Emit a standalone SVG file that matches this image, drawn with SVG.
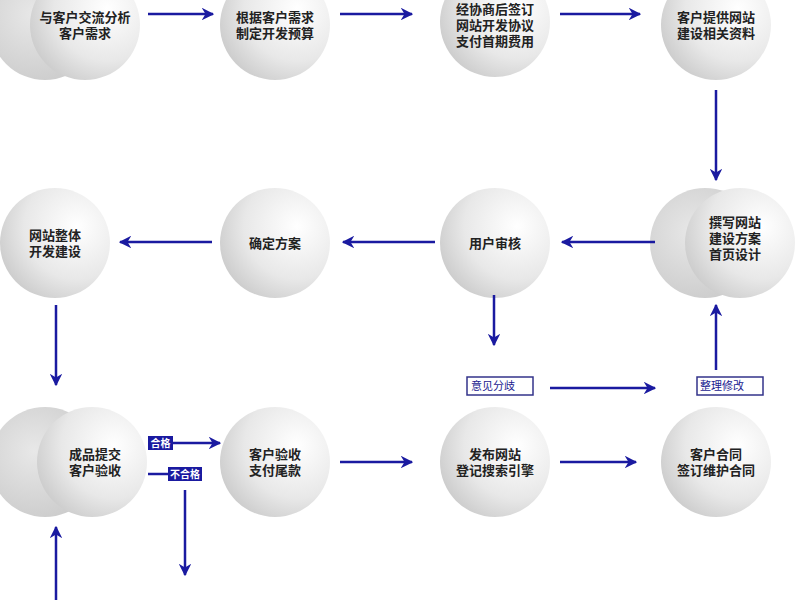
<svg xmlns="http://www.w3.org/2000/svg" width="800" height="600" viewBox="0 0 800 600">
<defs>
<radialGradient id="g" cx="0.7" cy="0.35" r="0.8"><stop offset="0" stop-color="#ffffff"/><stop offset="0.6" stop-color="#e8e8e8"/><stop offset="1" stop-color="#c8c8c8"/></radialGradient>
<radialGradient id="gb" cx="0.4" cy="0.4" r="0.7"><stop offset="0" stop-color="#e8e8e8"/><stop offset="1" stop-color="#cacaca"/></radialGradient>
<marker id="a" viewBox="0 0 10 10" refX="9" refY="5" markerWidth="5" markerHeight="5" orient="auto"><path d="M0,0 L10,5 L0,10 L3,5 z" fill="#1a1aa0"/></marker>
</defs>
<style>
.c{fill:url(#g)}.b{fill:url(#gb)}
text{font-family:"Noto Sans CJK SC",sans-serif;font-size:13px;font-weight:bold;fill:#222;text-anchor:middle}
.l{stroke:#1a1aa0;stroke-width:2.5;fill:none;marker-end:url(#a)}
.p{stroke:#1a1aa0;stroke-width:2.5;fill:none}
.bx{fill:#fff;stroke:#33338a;stroke-width:1.5}
.bt{font-size:11px;font-weight:normal;fill:#1a1a90;text-anchor:start}
.tag{fill:#1a1aa0}
.tt{font-size:10px;fill:#fff;font-weight:bold}
</style>
<rect width="800" height="600" fill="#fff"/>
<g id="n1"><circle class="b" cx="45" cy="25" r="55"/><circle class="c" cx="85" cy="25" r="55"/><text x="85" y="22">与客户交流分析</text><text x="85" y="38">客户需求</text></g>
<g id="n2"><circle class="c" cx="275" cy="25" r="55"/><text x="275" y="22">根据客户需求</text><text x="275" y="38">制定开发预算</text></g>
<g id="n3"><circle class="c" cx="495" cy="22" r="55"/><text x="495" y="14">经协商后签订</text><text x="495" y="30">网站开发协议</text><text x="495" y="46">支付首期费用</text></g>
<g id="n4"><circle class="c" cx="716" cy="25" r="55"/><text x="716" y="22">客户提供网站</text><text x="716" y="38">建设相关资料</text></g>
<g id="n5"><circle class="b" cx="705" cy="243" r="55"/><circle class="c" cx="740" cy="243" r="55"/><text x="735" y="227">撰写网站</text><text x="735" y="243">建设方案</text><text x="735" y="259">首页设计</text></g>
<g id="n6"><circle class="c" cx="495" cy="243" r="55"/><text x="495" y="248">用户审核</text></g>
<g id="n7"><circle class="c" cx="275" cy="243" r="55"/><text x="275" y="248">确定方案</text></g>
<g id="n8"><circle class="c" cx="55" cy="243" r="55"/><text x="55" y="240">网站整体</text><text x="55" y="256">开发建设</text></g>
<g id="n9"><circle class="b" cx="45" cy="462" r="55"/><circle class="c" cx="92" cy="462" r="55"/><text x="95" y="459">成品提交</text><text x="95" y="475">客户验收</text></g>
<g id="n10"><circle class="c" cx="275" cy="462" r="55"/><text x="275" y="459">客户验收</text><text x="275" y="475">支付尾款</text></g>
<g id="n11"><circle class="c" cx="495" cy="462" r="55"/><text x="495" y="459">发布网站</text><text x="495" y="475">登记搜索引擎</text></g>
<g id="n12"><circle class="c" cx="716" cy="462" r="55"/><text x="716" y="459">客户合同</text><text x="716" y="475">签订维护合同</text></g>
<g id="b1"><rect class="bx" x="467" y="377" width="66" height="18"/><text class="bt" x="471" y="390">意见分歧</text></g>
<g id="b2"><rect class="bx" x="697" y="377" width="66" height="18"/><text class="bt" x="700" y="390">整理修改</text></g>
<g id="connectors">
<path class="l" d="M148,14 H213"/>
<path class="l" d="M340,14 H412"/>
<path class="l" d="M560,14 H640"/>
<path class="l" d="M716,90 V180"/>
<path class="l" d="M655,242 H562"/>
<path class="l" d="M435,242 H343"/>
<path class="l" d="M212,242 H120"/>
<path class="l" d="M56,305 V385"/>
<path class="l" d="M494,295 V345"/>
<path class="l" d="M550,388 H655"/>
<path class="l" d="M716,370 V305"/>
<path class="l" d="M172,443 H220"/>
<path class="p" d="M148,474 H168"/>
<path class="l" d="M185,490 V575"/>
<path class="l" d="M56,600 V527"/>
<path class="l" d="M340,462 H412"/>
<path class="l" d="M560,462 H636"/>
</g>
<g id="tags">
<rect class="tag" x="148" y="436" width="25" height="14"/><text class="tt" x="160.5" y="447">合格</text>
<rect class="tag" x="168" y="467" width="34" height="14"/><text class="tt" x="185" y="478">不合格</text>
</g>
</svg>
